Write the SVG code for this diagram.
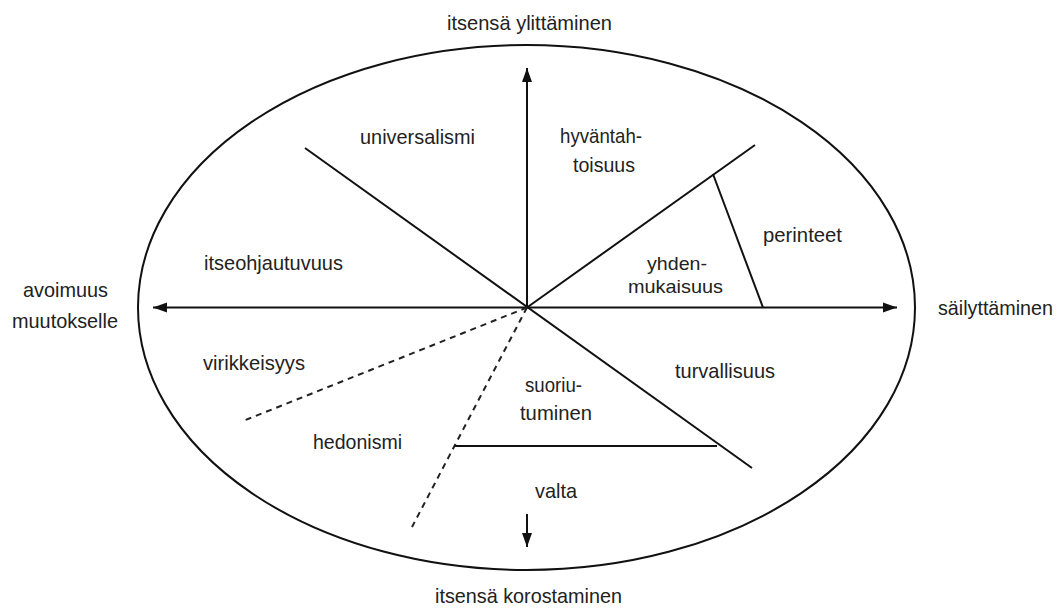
<svg xmlns="http://www.w3.org/2000/svg" width="1064" height="610" viewBox="0 0 1064 610">
<style>
.ln{stroke:#111;stroke-width:2;fill:none}
.ds{stroke:#222;stroke-width:2;fill:none;stroke-dasharray:6 5}
text{font-family:"Liberation Sans",Arial,sans-serif;font-size:21px;fill:#222}
text.sm{font-size:19px}
</style>
<defs>
<marker id="ah" markerUnits="userSpaceOnUse" markerWidth="14" markerHeight="12" refX="14" refY="6" orient="auto">
<path d="M0,1 L14,6 L0,11 Z" fill="#111"/>
</marker>
</defs>
<rect width="1064" height="610" fill="#fff"/>
<g id="ellipse"><ellipse class="ln" cx="526.5" cy="307.5" rx="388.5" ry="262.5"/></g>
<g id="connectors">
<line class="ln" x1="527" y1="307.5" x2="527" y2="68" marker-end="url(#ah)"/>
<line class="ln" x1="527" y1="307.5" x2="153" y2="307.5" marker-end="url(#ah)"/>
<line class="ln" x1="527" y1="307.5" x2="897" y2="307.5" marker-end="url(#ah)"/>
<line class="ln" x1="527" y1="514" x2="527" y2="547" marker-end="url(#ah)"/>
<line class="ln" x1="305" y1="148" x2="752" y2="468"/>
<line class="ln" x1="527" y1="307.5" x2="755" y2="145"/>
<line class="ln" x1="713" y1="174" x2="763" y2="307.5"/>
<line class="ln" x1="455" y1="446" x2="717" y2="446"/>
<line class="ds" x1="527" y1="307.5" x2="243" y2="421"/>
<line class="ds" x1="527" y1="307.5" x2="412" y2="527"/>
</g>
<g id="top"><text x="447" y="30" textLength="165" lengthAdjust="spacingAndGlyphs">itsensä ylittäminen</text></g>
<g id="bottom"><text x="435" y="603" textLength="187" lengthAdjust="spacingAndGlyphs">itsensä korostaminen</text></g>
<g id="left"><text x="23" y="297" textLength="85" lengthAdjust="spacingAndGlyphs">avoimuus</text><text x="12" y="328" textLength="106" lengthAdjust="spacingAndGlyphs">muutokselle</text></g>
<g id="right"><text x="938" y="315" textLength="115" lengthAdjust="spacingAndGlyphs">säilyttäminen</text></g>
<g id="universalismi"><text x="360" y="144" textLength="115" lengthAdjust="spacingAndGlyphs">universalismi</text></g>
<g id="hyvantahtoisuus"><text x="560" y="143" textLength="82" lengthAdjust="spacingAndGlyphs">hyväntah-</text><text x="573" y="172" textLength="62" lengthAdjust="spacingAndGlyphs">toisuus</text></g>
<g id="perinteet"><text x="763" y="242" textLength="79" lengthAdjust="spacingAndGlyphs">perinteet</text></g>
<g id="yhdenmukaisuus"><text class="sm" x="647" y="270" textLength="60" lengthAdjust="spacingAndGlyphs">yhden-</text><text class="sm" x="628" y="293" textLength="95" lengthAdjust="spacingAndGlyphs">mukaisuus</text></g>
<g id="itseohjautuvuus"><text x="204" y="270" textLength="139" lengthAdjust="spacingAndGlyphs">itseohjautuvuus</text></g>
<g id="virikkeisyys"><text x="203" y="370" textLength="102" lengthAdjust="spacingAndGlyphs">virikkeisyys</text></g>
<g id="hedonismi"><text x="313" y="449" textLength="89" lengthAdjust="spacingAndGlyphs">hedonismi</text></g>
<g id="suoriutuminen"><text x="525" y="392" textLength="57" lengthAdjust="spacingAndGlyphs">suoriu-</text><text x="520" y="420" textLength="72" lengthAdjust="spacingAndGlyphs">tuminen</text></g>
<g id="turvallisuus"><text x="675" y="378" textLength="100" lengthAdjust="spacingAndGlyphs">turvallisuus</text></g>
<g id="valta"><text x="535" y="498" textLength="42" lengthAdjust="spacingAndGlyphs">valta</text></g>
</svg>
